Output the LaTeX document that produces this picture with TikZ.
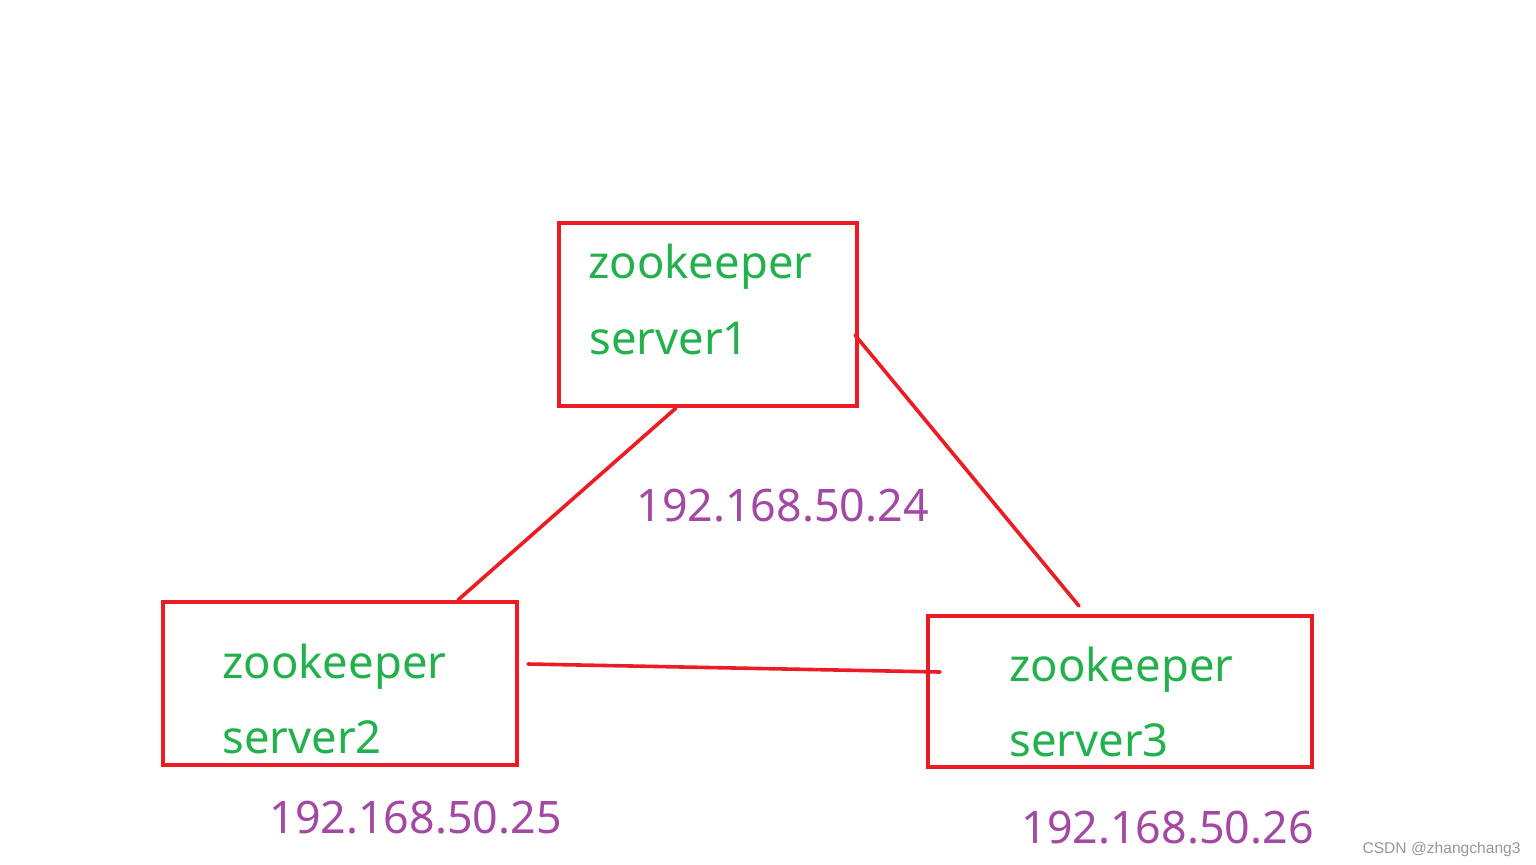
\documentclass[tikz,border=0pt]{standalone}
\usepackage{fontspec}
\setmainfont{Noto Sans}
\newfontfamily\markfont{Liberation Sans}
\definecolor{boxred}{RGB}{237,28,36}
\definecolor{zkgreen}{RGB}{34,177,76}
\definecolor{ippurple}{RGB}{163,73,164}
\definecolor{markgray}{RGB}{150,150,150}

\begin{document}
\begin{tikzpicture}[x=0.5pt, y=-0.5pt,
    srvbox/.style={draw=boxred, line width=2pt, inner sep=0pt},
    srvtext/.style={anchor=base west, inner sep=0pt, color=zkgreen, font=\fontsize{22.7}{22.7}\selectfont},
    iptext/.style={anchor=base west, inner sep=0pt, color=ippurple, font=\fontsize{22.4}{22.4}\selectfont},
    link/.style={draw=boxred, line width=1.8pt, line cap=round}]
    \useasboundingbox (0,0) rectangle (1536,864);
    % Three zookeeper servers.
    \node[srvbox, minimum width=149pt, minimum height=91.5pt] (box1) at (708,314.5) {};
    \node[srvbox, minimum width=177pt, minimum height=81.5pt] (box2) at (340,683.5) {};
    \node[srvbox, minimum width=192pt, minimum height=75.5pt] (box3) at (1120,691.5) {};
    \node[srvtext] (zk1) at (588,278) {zookeeper};
    \node[srvtext] (sv1) at (589,354) {server1};
    \node[srvtext] (zk2) at (222,678) {zookeeper};
    \node[srvtext] (sv2) at (222,753) {server2};
    \node[srvtext] (zk3) at (1009,681) {zookeeper};
    \node[srvtext] (sv3) at (1009,756) {server3};
    % Addresses.
    \node[iptext] (ip1) at (636,521) {192.168.50.24};
    \node[iptext] (ip2) at (269,833) {192.168.50.25};
    \node[iptext] (ip3) at (1021,843) {192.168.50.26};
    % Links between the servers.
    \coordinate (a1) at (676,408);
    \coordinate (a2) at (458,600);
    \coordinate (b1) at (855,335);
    \coordinate (b3) at (1079,606);
    \coordinate (c2) at (528,664);
    \coordinate (c3) at (940,672);
    \draw[link] (a1) -- (a2);
    \draw[link] (b1) -- (b3);
    \draw[link] (c2) -- (c3);
    \node[anchor=base east, inner sep=0pt, color=markgray, font=\markfont\fontsize{7.8}{7.8}\selectfont] (mark) at (1521,853) {CSDN @zhangchang3};
\end{tikzpicture}
\end{document}
